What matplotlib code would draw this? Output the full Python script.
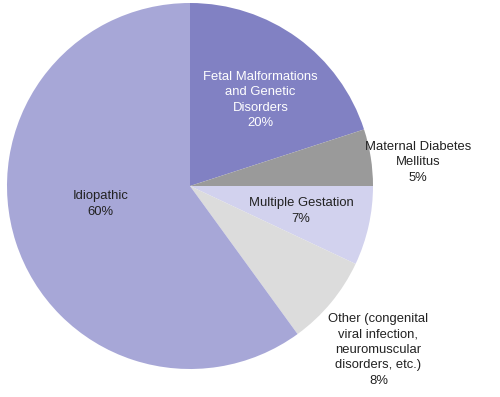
import matplotlib
matplotlib.use("Agg")
import matplotlib.pyplot as plt

categories = ["Fetal Malformations\nand Genetic\nDisorders",
              "Maternal Diabetes\nMellitus",
              "Multiple Gestation",
              "Other (congenital\nviral infection,\nneuromuscular\ndisorders, etc.)",
              "Idiopathic"]
values = [20, 5, 7, 8, 60]
colors = ["#8181c3", "#9a9a9a", "#d2d2ee", "#dcdcdc", "#a7a7d7"]
text_colors = ["#ffffff", "#222222", "#222222", "#222222", "#222222"]
label_pos = [(0.385, 0.47), (1.246, 0.13), (0.607, -0.137), (1.03, -0.896), (-0.49, -0.098)]

plt.rcParams['font.family'] = ['Liberation Sans', 'DejaVu Sans']
fig = plt.figure(figsize=(5.0, 3.97), dpi=100)
ax = fig.add_axes([7/500, 28/397, 366/500, 366/397])
ax.pie(values, colors=colors, startangle=90, counterclock=False,
       wedgeprops=dict(linewidth=0))
ax.set_xlim(-1, 1)
ax.set_ylim(-1, 1)
ax.set_aspect('auto')
for cat, v, (x, y), tc in zip(categories, values, label_pos, text_colors):
    ax.text(x, y, f"{cat}\n{v}%", ha='center', va='center', fontsize=9.4,
            color=tc, linespacing=1.38, clip_on=False)
fig.savefig("out.png", dpi=100)
